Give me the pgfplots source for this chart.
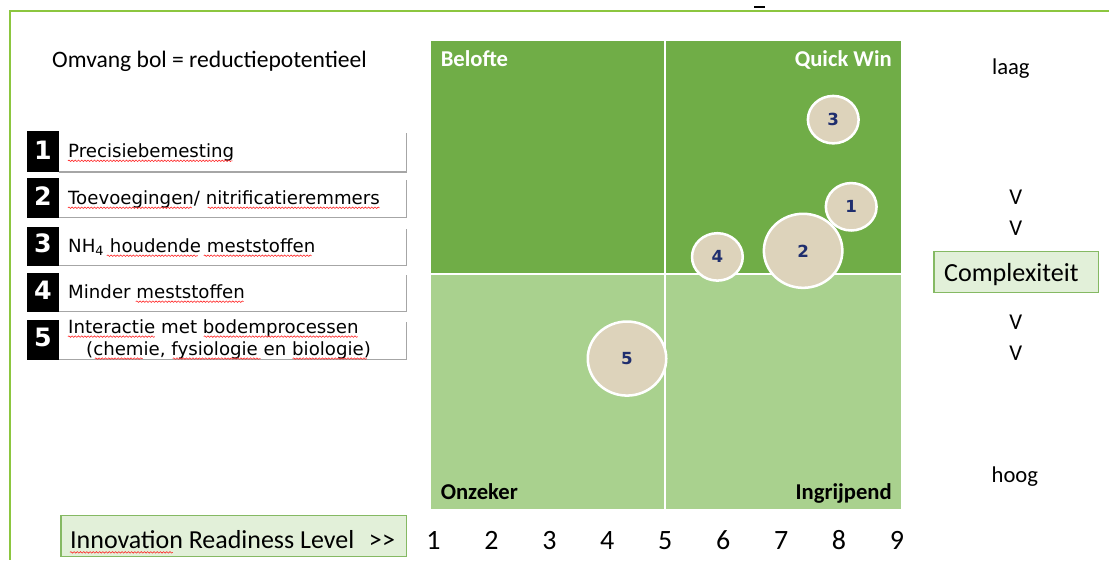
\documentclass[border=0pt]{standalone}
\usepackage{fontspec}
\setmainfont{Carlito}
\newfontfamily\verd{DejaVu Sans}
\usepackage{pgfplots}
\pgfplotsset{compat=1.18}
\usetikzlibrary{decorations.pathmorphing}
\definecolor{dkg}{HTML}{70AD47}
\definecolor{ltg}{HTML}{A9D18E}
\definecolor{bub}{HTML}{DDD3BB}
\definecolor{boxg}{HTML}{E2F0D9}
\definecolor{framec}{HTML}{8CC63F}
\definecolor{navy}{HTML}{1F2E6E}
\definecolor{shadowc}{HTML}{A6A6A6}

\pgfplotstableread{
x y lab
8.21 6.46 1
7.90 8.32 3
5.90 5.39 4
}\smallbubbles
\pgfplotstableread{
x y lab
7.38 5.52 2
4.34 3.22 5
}\largebubbles

\tikzset{wavy/.style={red!85, line width=0.45pt, decorate, decoration={snake, amplitude=0.55pt, segment length=2.4pt}}}

\begin{document}
\begin{tikzpicture}[x=0.75pt,y=-0.75pt]
\path (0,0) rectangle (1110,561);
\draw[framec, line width=1.9pt] (1110,11) -- (10,11) -- (10,561);
\draw[black, line width=1.1pt] (755,7) -- (766,7);

\node[anchor=base west, inner sep=0, font=\fontsize{17.7}{20}\selectfont] at (52,68) {Omvang bol = reductiepotentieel};

% list boxes
\foreach \n/\ya/\yb/\bl in {1/131/172/160, 2/178/218/206, 3/227/266/253, 4/273/312/300, 5/320/360/347} {
  \fill[black] (27,\ya) rectangle (59,\yb);
  \draw[shadowc, line width=1.1pt] (59,\yb) -- (407,\yb) -- (407,{\ya+2});
  \node[anchor=base, inner sep=0, text=white, font=\verd\bfseries\fontsize{19}{20}\selectfont] at (43,\bl) {\n};
}
\begin{scope}[every node/.style={anchor=base west, inner sep=0, font=\verd\fontsize{13.65}{15}\selectfont}]
\node at (68,158) {Precisiebemesting};
\node at (68,205) {Toevoegingen/ nitrificatieremmers};
\node at (68,253) {NH\textsubscript{4} houdende meststoffen};
\node at (68,299) {Minder meststoffen};
\node at (68,334) {Interactie met bodemprocessen};
\node at (86,356) {(chemie, fysiologie en biologie)};
\end{scope}
% spell-check underlines
\draw[wavy] (68,161) -- (233,161);
\draw[wavy] (68,208) -- (192,208);
\draw[wavy] (208,208) -- (380,208);
\draw[wavy] (107,256) -- (198,256);
\draw[wavy] (204,256) -- (312,256);
\draw[wavy] (136,302) -- (244,302);
\draw[wavy] (68,337) -- (155,337);
\draw[wavy] (204,337) -- (358,337);
\draw[wavy] (95,359) -- (143,359);
\draw[wavy] (173,359) -- (261,359);
\draw[wavy] (293,359) -- (367,359);

% innovation box
\draw[dkg!85, fill=boxg, line width=0.9pt] (61,516) rectangle (407,557);
\node[anchor=base west, inner sep=0, font=\fontsize{19.5}{22}\selectfont] at (70,549) {Innovation Readiness Level};
\node[anchor=base west, inner sep=0, font=\fontsize{19.5}{22}\selectfont] at (369,549) {\char62\kern0.3pt\char62};
\draw[wavy] (70,553) -- (173,553);

% complexity column
\begin{scope}[every node/.style={anchor=base, inner sep=0, font=\fontsize{17}{20}\selectfont}]
\node at (1012,75) {laag};
\node at (1017,205) {V};
\node at (1017,236) {V};
\node at (1017,330) {V};
\node at (1017,361) {V};
\node at (1016,483) {hoog};
\end{scope}
\draw[dkg!85, fill=boxg, line width=0.9pt] (935,252) rectangle (1100,293);
\node[anchor=base west, inner sep=0, font=\fontsize{19.6}{22}\selectfont] at (945,282) {Complexiteit};

\begin{axis}[
  at={(323.25pt,-382.5pt)}, anchor=south west,
  width=353.25pt, height=351.75pt, scale only axis,
  xmin=0.948, xmax=9.069, ymin=0, ymax=10,
  axis line style={draw=none},
  major tick length=0pt,
  xtick={1,2,3,4,5,6,7,8,9}, ytick=\empty,
  xticklabel style={font=\fontsize{21}{24}\selectfont, anchor=base, yshift=-30pt},
  /pgf/number format/assume math mode=true,
  clip=false,
]
\fill[dkg] (rel axis cs:0,0.503) rectangle (rel axis cs:1,1);
\fill[ltg] (rel axis cs:0,0) rectangle (rel axis cs:1,0.503);
\draw[white, line width=1.6pt] (axis cs:5,0) -- (axis cs:5,10);
\draw[white, line width=1.6pt] (rel axis cs:0,0.503) -- (rel axis cs:1,0.503);
\addplot[only marks, mark=*, mark size=17.8pt,
  mark options={fill=bub, draw=white, line width=1.9pt, xscale=1.07},
  nodes near coords, point meta=explicit symbolic,
  every node near coord/.append style={anchor=center, inner sep=0, text=navy, font=\verd\bfseries\fontsize{12.5}{13}\selectfont}]
  table[x=x, y=y, meta=lab] {\smallbubbles};
\addplot[only marks, mark=*, mark size=27.8pt,
  mark options={fill=bub, draw=white, line width=1.9pt, xscale=1.06},
  nodes near coords, point meta=explicit symbolic,
  every node near coord/.append style={anchor=center, inner sep=0, text=navy, font=\verd\bfseries\fontsize{12.5}{13}\selectfont}]
  table[x=x, y=y, meta=lab] {\largebubbles};
\end{axis}

\begin{scope}[every node/.style={inner sep=0, font=\bfseries\fontsize{17}{20}\selectfont}]
\node[anchor=base west, text=white] at (441,67) {Belofte};
\node[anchor=base east, text=white] at (893,67) {Quick Win};
\node[anchor=base west] at (441,500) {Onzeker};
\node[anchor=base east] at (893,500) {Ingrijpend};
\end{scope}
\end{tikzpicture}
\end{document}
